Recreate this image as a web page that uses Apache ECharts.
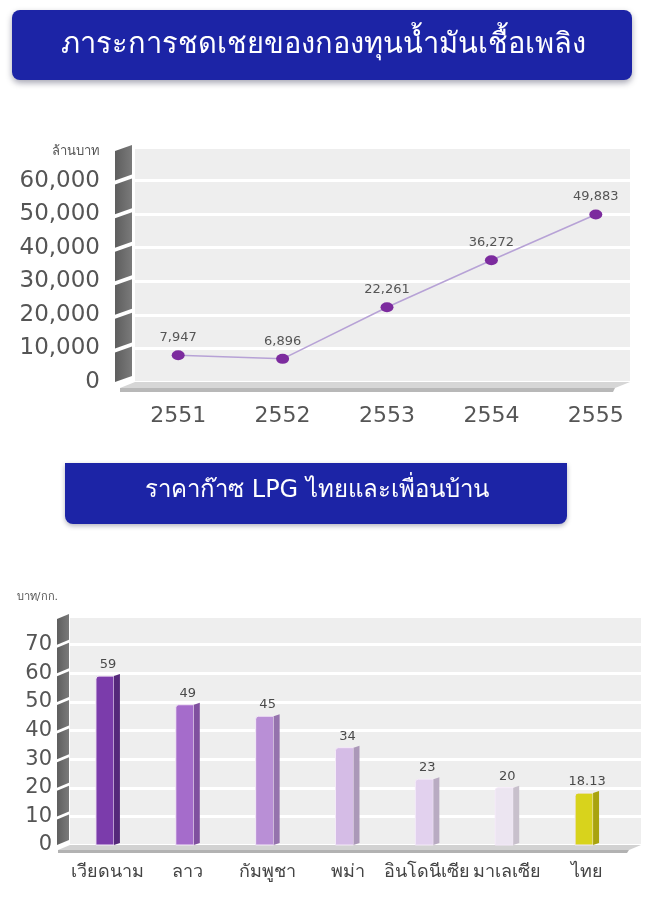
<!DOCTYPE html>
<html>
<head>
<meta charset="utf-8">
<script src="https://cdn.jsdelivr.net/npm/echarts@6/dist/echarts.min.js"></script>
<style>
  html, body { margin: 0; padding: 0; background: #ffffff; }
  #chart { width: 651px; height: 898px; }
</style>
</head>
<body>
<div id="chart"></div>
<script>
// Oil fund subsidy burden (million baht) by year
const fundYears = ['2551', '2552', '2553', '2554', '2555'];
const fundSubsidy = [7947, 6896, 22261, 36272, 49883];
const fundTicks = [0, 10000, 20000, 30000, 40000, 50000, 60000, 70000];

// LPG price (baht/kg), Thailand and neighbours
const lpgCountries = ['เวียดนาม', 'ลาว', 'กัมพูชา', 'พม่า', 'อินโดนีเซีย', 'มาเลเซีย', 'ไทย'];
const lpgPrice = [59, 49, 45, 34, 23, 20, 18.13];
const lpgTicks = [0, 10, 20, 30, 40, 50, 60, 70, 80];

// bar face colours (front / side)
const lpgFront = ['#7b3cab', '#a56ccb', '#b98fd6', '#d5bce6', '#e2d1ee', '#ece5f1', '#d8d31c'];
const lpgSide = ['#55287a', '#80509f', '#9573ad', '#ab98b8', '#b9abc2', '#c8c0cc', '#a9a30e'];

const FONT = "'DejaVu Sans', 'Noto Sans', sans-serif";

function fmtThousands(v) {
  return String(v).replace(/\B(?=(\d{3})+(?!\d))/g, ',');
}

// slanted 3D wall segments left of a grid, one per tick interval
function wallItem(depth, inset, slant, gap, color) {
  return function (params, api) {
    const cs = params.coordSys;
    const yLo = api.coord([0, api.value(1)])[1];
    const yHi = api.coord([0, api.value(2)])[1];
    const x0 = cs.x - depth, x1 = cs.x - inset;
    return {
      type: 'polygon',
      shape: { points: [[x0, yLo], [x1, yLo - slant], [x1, yHi - slant + gap], [x0, yHi + gap]] },
      style: {
        fill: new echarts.graphic.LinearGradient(0, 0, 1, 0, [
          { offset: 0, color: '#5e5e5e' }, { offset: 1, color: '#7a7a7a' }
        ])
      }
    };
  };
}

// floor slab under a grid
function floorItem(shift, face, thick, topColor, frontColor) {
  return function (params, api) {
    const cs = params.coordSys;
    const y0 = api.coord([0, 0])[1];
    const xl = cs.x, xr = cs.x + cs.width;
    return {
      type: 'group',
      children: [
        { type: 'polygon', shape: { points: [[xl, y0], [xr, y0], [xr - shift, y0 + face], [xl - shift, y0 + face]] }, style: { fill: topColor } },
        { type: 'polygon', shape: { points: [[xl - shift, y0 + face], [xr - shift, y0 + face], [xr - shift - 2, y0 + face + thick], [xl - shift, y0 + face + thick]] }, style: { fill: frontColor } }
      ]
    };
  };
}

// 3D-looking price bar with its value on top
function barItem(params, api) {
  const i = api.value(0), v = api.value(1);
  const top = api.coord([i, v]), base = api.coord([i, 0]);
  const w = 18, side = 6;
  const xl = top[0] - (w + side) / 2, xm = xl + w, xr = xm + side;
  return {
    type: 'group',
    children: [
      { type: 'rect', shape: { x: xl, y: top[1], width: w, height: base[1] - top[1], r: [3, 0, 0, 0] },
        style: { fill: lpgFront[i], stroke: '#f4e9f8', lineWidth: 1 } },
      { type: 'polygon', shape: { points: [[xm, top[1]], [xr, top[1] - 2], [xr, base[1] - 2], [xm, base[1]]] },
        style: { fill: lpgSide[i] } },
      { type: 'text', x: top[0], y: top[1] - 5,
        style: { text: String(v), fill: '#4a4a4a', font: '13px ' + FONT, align: 'center', verticalAlign: 'bottom' } }
    ]
  };
}

const pairs = (ticks) => ticks.slice(0, -1).map((v, i) => [0, v, ticks[i + 1]]);

const chart = echarts.init(document.getElementById('chart'), null, { renderer: 'canvas' });

chart.setOption({
  backgroundColor: '#ffffff',
  animation: false,
  textStyle: { fontFamily: FONT },
  graphic: [
    {
      type: 'group',
      children: [
        { type: 'rect', shape: { x: 12, y: 10, width: 620, height: 70, r: 8 },
          style: { fill: '#1c24a6', shadowBlur: 6, shadowOffsetY: 3, shadowColor: 'rgba(0,0,40,0.35)' } },
        { type: 'text', x: 323, y: 45,
          style: { text: 'ภาระการชดเชยของกองทุนน้ำมันเชื้อเพลิง', fill: '#ffffff', font: '29px ' + FONT, align: 'center', verticalAlign: 'middle' } }
      ]
    },
    {
      type: 'group',
      children: [
        { type: 'rect', shape: { x: 65, y: 463, width: 502, height: 61, r: [0, 0, 8, 8] },
          style: { fill: '#1c24a6', shadowBlur: 5, shadowOffsetY: 2, shadowColor: 'rgba(0,0,40,0.3)' } },
        { type: 'text', x: 317, y: 491,
          style: { text: 'ราคาก๊าซ LPG ไทยและเพื่อนบ้าน', fill: '#ffffff', font: '24px ' + FONT, align: 'center', verticalAlign: 'middle' } }
      ]
    }
  ],
  grid: [
    // top chart: background panel and data area
    { left: 135, right: 21, top: 147, bottom: 516, show: true, backgroundColor: '#eeeeee', borderWidth: 0 },
    { left: 126, right: 3, top: 147, bottom: 516 },
    // bottom chart: background panel and data area
    { left: 70, right: 10, top: 616, bottom: 53, show: true, backgroundColor: '#eeeeee', borderWidth: 0 },
    { left: 68, right: 24, top: 616, bottom: 53 }
  ],
  xAxis: [
    { gridIndex: 0, type: 'value', min: 0, max: 1, show: false },
    {
      gridIndex: 1, type: 'category', data: fundYears, boundaryGap: true, offset: 9,
      axisLine: { show: false },
      axisTick: { show: true, alignWithLabel: true, length: 9, lineStyle: { color: '#555555', width: 2.5 } },
      axisLabel: { color: '#555555', fontSize: 22, margin: 14 }
    },
    { gridIndex: 2, type: 'value', min: 0, max: 1, show: false },
    {
      gridIndex: 3, type: 'category', data: lpgCountries, boundaryGap: true,
      axisLine: { show: false }, axisTick: { show: false },
      axisLabel: { color: '#444444', fontSize: 18, margin: 18, interval: 0, hideOverlap: false }
    }
  ],
  yAxis: [
    {
      gridIndex: 0, type: 'value', min: fundTicks[0], max: fundTicks[fundTicks.length - 1], interval: 10000,
      name: 'ล้านบาท', nameLocation: 'end', nameGap: -5,
      nameTextStyle: { color: '#555555', fontSize: 13, align: 'right', verticalAlign: 'middle', padding: [0, 35, 0, 0] },
      axisLine: { show: false }, axisTick: { show: false },
      axisLabel: {
        color: '#555555', fontSize: 23, margin: 35,
        formatter: (v) => (v === fundTicks[fundTicks.length - 1] ? '' : fmtThousands(v))
      },
      splitLine: { show: true, lineStyle: { color: '#ffffff', width: 3 } }
    },
    { gridIndex: 1, type: 'value', min: fundTicks[0], max: fundTicks[fundTicks.length - 1], interval: 10000, show: false, splitLine: { show: false } },
    {
      gridIndex: 2, type: 'value', min: lpgTicks[0], max: lpgTicks[lpgTicks.length - 1], interval: 10,
      name: 'บาท/กก.', nameLocation: 'end', nameGap: 19,
      nameTextStyle: { color: '#555555', fontSize: 11, align: 'right', verticalAlign: 'middle', padding: [0, 12, 0, 0] },
      axisLine: { show: false }, axisTick: { show: false },
      axisLabel: {
        color: '#555555', fontSize: 21, margin: 18,
        formatter: (v) => (v === lpgTicks[lpgTicks.length - 1] ? '' : String(v))
      },
      splitLine: { show: true, lineStyle: { color: '#ffffff', width: 3 } }
    },
    { gridIndex: 3, type: 'value', min: lpgTicks[0], max: lpgTicks[lpgTicks.length - 1], interval: 10, show: false, splitLine: { show: false } }
  ],
  series: [
    {
      type: 'custom', xAxisIndex: 0, yAxisIndex: 0, encode: { x: 0, y: 1 },
      renderItem: wallItem(20, 3, 6, 4), data: pairs(fundTicks), silent: true
    },
    {
      type: 'custom', xAxisIndex: 0, yAxisIndex: 0, encode: { x: 0, y: 1 },
      renderItem: floorItem(15, 6, 4, '#d6d6d6', '#b8b8b8'), data: [[0, 0]], silent: true
    },
    {
      type: 'line', xAxisIndex: 1, yAxisIndex: 1, data: fundSubsidy,
      lineStyle: { color: '#b7a2d6', width: 1.5 },
      symbol: 'circle', symbolSize: [13, 10],
      itemStyle: { color: '#7c2b9e' },
      label: { show: true, position: 'top', distance: 6, color: '#555555', fontSize: 13, formatter: (p) => fmtThousands(p.value) },
      z: 5
    },
    {
      type: 'custom', xAxisIndex: 2, yAxisIndex: 2, encode: { x: 0, y: 1 },
      renderItem: wallItem(13, 1, 5, 3), data: pairs(lpgTicks), silent: true
    },
    {
      type: 'custom', xAxisIndex: 2, yAxisIndex: 2, encode: { x: 0, y: 1 },
      renderItem: floorItem(12, 5, 3, '#d2d2d2', '#b2b2b2'), data: [[0, 0]], silent: true
    },
    {
      type: 'custom', xAxisIndex: 3, yAxisIndex: 3, encode: { x: 0, y: 1 },
      renderItem: barItem, data: lpgPrice.map((v, i) => [i, v]), z: 5
    }
  ]
});
</script>
</body>
</html>
